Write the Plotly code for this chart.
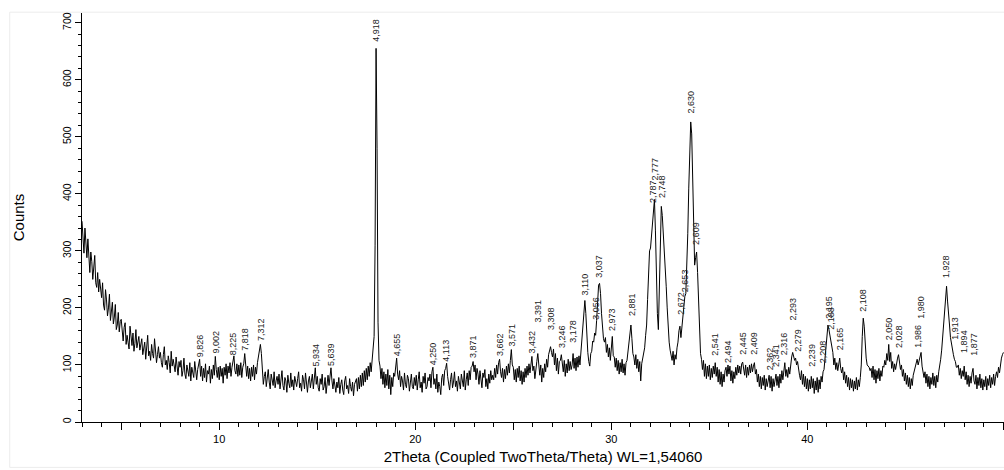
import numpy as np
import plotly.graph_objects as go

# ---- scan parameters ----
two_theta_start = 3.0
two_theta_step = 0.05
wavelength = 1.54060

# ---- measured counts, one row per degree (3.00 ... 49.95), then 50.00 ----
counts_by_degree = [
    [352, 318, 296, 340, 302, 288, 321, 276, 262, 298, 281, 250, 268, 292, 244, 236, 262, 228, 250, 233],  # 3
    [218, 244, 205, 196, 232, 214, 186, 200, 224, 178, 190, 210, 172, 184, 206, 162, 170, 192, 158, 176],  # 4
    [180, 150, 142, 166, 174, 136, 152, 140, 128, 168, 146, 134, 156, 124, 138, 162, 130, 144, 150, 126],  # 5
    [134, 146, 118, 126, 140, 110, 132, 152, 116, 124, 108, 136, 120, 112, 146, 126, 104, 118, 132, 112],  # 6
    [122, 104, 96, 118, 132, 100, 108, 92, 116, 104, 86, 124, 98, 110, 94, 88, 114, 100, 82, 106],         # 7
    [96, 108, 80, 90, 112, 84, 76, 100, 92, 80, 104, 72, 96, 88, 78, 106, 84, 74, 92, 100],                # 8
    [110, 80, 98, 72, 94, 78, 102, 70, 90, 84, 98, 68, 92, 76, 100, 82, 115, 92, 78, 96],                  # 9
    [74, 98, 80, 94, 68, 96, 82, 102, 76, 98, 86, 104, 80, 96, 106, 116, 90, 84, 102, 80],                 # 10
    [100, 82, 104, 78, 96, 102, 120, 96, 80, 98, 76, 94, 72, 96, 80, 100, 74, 96, 84, 104],                # 11
    [114, 130, 136, 120, 90, 66, 80, 88, 62, 76, 92, 70, 58, 84, 74, 64, 88, 60, 72, 80],                  # 12
    [66, 84, 58, 70, 90, 64, 56, 78, 72, 52, 82, 68, 60, 86, 62, 74, 56, 80, 70, 62],                      # 13
    [76, 88, 60, 68, 54, 82, 74, 58, 86, 66, 52, 72, 80, 60, 70, 84, 58, 74, 95, 66],                      # 14
    [80, 60, 54, 76, 66, 84, 56, 62, 78, 50, 70, 82, 64, 84, 95, 72, 58, 76, 66, 52],                      # 15
    [70, 60, 78, 50, 66, 74, 56, 48, 72, 80, 58, 64, 50, 76, 62, 54, 70, 46, 66, 74],                      # 16
    [76, 54, 78, 58, 82, 62, 86, 64, 90, 70, 94, 74, 98, 80, 104, 88, 110, 118, 150, 310],                 # 17
    [655, 480, 175, 108, 98, 76, 94, 66, 88, 60, 84, 64, 92, 58, 82, 48, 78, 62, 86, 80],                  # 18
    [98, 112, 84, 74, 90, 62, 80, 72, 56, 86, 66, 60, 82, 76, 54, 70, 84, 62, 58, 78],                     # 19
    [64, 82, 56, 74, 88, 60, 70, 52, 80, 68, 86, 58, 62, 78, 72, 84, 60, 88, 96, 66],                      # 20
    [76, 58, 84, 52, 70, 62, 48, 78, 84, 64, 90, 94, 103, 80, 66, 56, 74, 86, 60, 70],                     # 21
    [88, 62, 72, 54, 80, 66, 58, 84, 76, 62, 90, 56, 74, 86, 64, 90, 74, 96, 98, 106],                     # 22
    [88, 100, 74, 94, 84, 66, 90, 70, 60, 86, 78, 92, 62, 76, 58, 84, 68, 90, 74, 82],                     # 23
    [74, 94, 78, 100, 84, 104, 110, 88, 78, 94, 70, 92, 76, 98, 82, 102, 86, 108, 127, 100],               # 24
    [96, 74, 92, 70, 94, 78, 98, 72, 90, 66, 88, 70, 94, 78, 98, 82, 102, 86, 100, 115],                   # 25
    [90, 98, 76, 96, 106, 120, 98, 82, 100, 70, 94, 78, 102, 88, 110, 96, 118, 124, 132, 122],             # 26
    [114, 128, 100, 120, 90, 112, 84, 106, 108, 118, 96, 88, 108, 80, 102, 86, 110, 90, 106, 92],          # 27
    [100, 120, 94, 112, 90, 114, 96, 116, 100, 122, 142, 175, 200, 213, 190, 150, 122, 106, 98, 120],      # 28
    [124, 142, 140, 156, 152, 178, 215, 240, 243, 225, 190, 162, 146, 140, 148, 122, 136, 114, 130, 108],  # 29
    [140, 150, 116, 114, 96, 112, 90, 108, 84, 104, 88, 110, 86, 102, 82, 104, 108, 124, 138, 155],        # 30
    [170, 146, 120, 114, 100, 118, 94, 110, 88, 106, 72, 102, 110, 124, 130, 152, 170, 215, 270, 300],     # 31
    [305, 330, 355, 378, 390, 335, 255, 190, 162, 250, 345, 378, 362, 335, 300, 262, 238, 200, 165, 140],  # 32
    [126, 116, 108, 124, 100, 118, 110, 130, 140, 160, 168, 148, 166, 190, 205, 220, 225, 265, 330, 410],  # 33
    [480, 526, 505, 420, 335, 275, 288, 298, 262, 205, 155, 120, 110, 92, 108, 80, 102, 76, 98, 80],       # 34
    [100, 74, 94, 78, 98, 84, 104, 80, 96, 70, 92, 66, 88, 62, 84, 70, 90, 96, 80, 100],                   # 35
    [84, 98, 72, 90, 68, 88, 76, 96, 82, 100, 86, 98, 84, 102, 105, 90, 82, 100, 78, 96],                  # 36
    [82, 100, 86, 102, 88, 98, 104, 84, 92, 70, 84, 62, 80, 58, 78, 64, 82, 56, 76, 62],                   # 37
    [78, 82, 60, 80, 54, 76, 62, 78, 84, 64, 80, 60, 84, 68, 90, 74, 94, 104, 80, 92],                     # 38
    [78, 96, 84, 104, 114, 122, 114, 108, 112, 100, 106, 88, 82, 74, 90, 66, 84, 62, 80, 58],              # 39
    [76, 54, 74, 58, 80, 60, 76, 50, 72, 56, 78, 52, 74, 58, 80, 70, 88, 92, 110, 138],                    # 40
    [158, 170, 162, 150, 146, 126, 122, 100, 112, 92, 104, 90, 106, 112, 94, 86, 96, 74, 88, 68],          # 41
    [82, 62, 78, 56, 76, 60, 74, 54, 72, 58, 78, 56, 74, 62, 78, 100, 150, 182, 168, 132],                 # 42
    [112, 100, 98, 96, 90, 94, 78, 98, 74, 92, 68, 90, 76, 94, 72, 90, 80, 98, 96, 108],                   # 43
    [100, 120, 108, 136, 106, 122, 94, 106, 88, 102, 92, 108, 112, 118, 98, 92, 100, 80, 92, 72],          # 44
    [86, 66, 82, 62, 78, 58, 76, 64, 82, 88, 98, 104, 110, 100, 108, 114, 122, 98, 86, 78],                # 45
    [88, 68, 84, 62, 80, 58, 78, 66, 86, 64, 80, 60, 82, 70, 88, 96, 110, 126, 150, 172],                  # 46
    [200, 225, 238, 212, 182, 170, 148, 136, 122, 118, 110, 106, 96, 96, 100, 82, 94, 76, 90, 80],         # 47
    [98, 74, 88, 66, 82, 62, 80, 68, 86, 94, 72, 66, 82, 58, 78, 64, 84, 60, 76, 56],                      # 48
    [74, 62, 80, 56, 76, 64, 82, 60, 78, 66, 84, 64, 80, 88, 78, 96, 86, 106, 112, 118],                   # 49
    [122],                                                                                                  # 50.00
]

# ---- peak labels: d-spacing (Angstrom) and height of the label foot (counts) ----
peak_d = [9.826, 9.002, 8.225, 7.818, 7.312, 5.934, 5.639, 4.918, 4.655, 4.250,
          4.113, 3.871, 3.662, 3.571, 3.432, 3.391, 3.308, 3.246, 3.178, 3.110,
          3.056, 3.037, 2.973, 2.881, 2.787, 2.777, 2.748, 2.672, 2.653, 2.630,
          2.609, 2.541, 2.494, 2.445, 2.409, 2.362, 2.341, 2.316, 2.293, 2.279,
          2.239, 2.208, 2.195, 2.188, 2.165, 2.108, 2.050, 2.028, 1.986, 1.980,
          1.928, 1.913, 1.894, 1.877]
label_foot = [110, 117, 114, 122, 138, 94, 94, 663, 112, 96,
              103, 108, 112, 129, 117, 170, 157, 126, 135, 219,
              176, 249, 157, 182, 380, 420, 389, 184, 225, 538,
              307, 112, 100, 114, 114, 87, 93, 114, 175, 120,
              93, 100, 178, 158, 122, 190, 140, 126, 126, 178,
              249, 140, 117, 112]

x_ticks = [5, 10, 15, 20, 25, 30, 35, 40, 45, 50]
x_ticktext = ["", "10", "", "20", "", "30", "", "40", "", "50"]
y_ticks = [0, 100, 200, 300, 400, 500, 600, 700]

counts = [c for row in counts_by_degree for c in row]
two_theta = two_theta_start + two_theta_step * np.arange(len(counts))
peak_2theta = 2 * np.degrees(np.arcsin(wavelength / (2 * np.array(peak_d))))

FONT = "Liberation Sans, Arial, Helvetica, sans-serif"

fig = go.Figure()
fig.add_trace(go.Scatter(x=two_theta, y=counts, mode="lines",
                         line=dict(color="black", width=1), hoverinfo="skip",
                         showlegend=False))

for d, xp, yf in zip(peak_d, peak_2theta, label_foot):
    fig.add_annotation(x=xp, y=yf, text=f"{d:.3f}".replace(".", ","),
                       textangle=-90, showarrow=False, xanchor="center",
                       yanchor="bottom", font=dict(family=FONT, size=9, color="#222"))

fig.add_shape(type="rect", xref="paper", yref="paper", x0=-0.0784, x1=1.01,
              y0=-0.111, y1=1.002, line=dict(color="#ececec", width=1), layer="below")

fig.update_layout(
    width=1004, height=470,
    margin=dict(l=82, r=0, t=13, b=48),
    paper_bgcolor="white", plot_bgcolor="white",
    font=dict(family=FONT, color="black"),
    xaxis=dict(range=[3, 50.03], tickvals=x_ticks, ticktext=x_ticktext,
               ticks="outside", ticklen=7, tickcolor="black", tickwidth=1,
               showline=True, linecolor="black", linewidth=1, showgrid=False,
               zeroline=False, tickfont=dict(size=11),
               minor=dict(dtick=1, ticks="outside", ticklen=4, tickcolor="black"),
               title=dict(text="2Theta (Coupled TwoTheta/Theta) WL=1,54060",
                          font=dict(size=15), standoff=7),
               automargin=False),
    yaxis=dict(range=[0, 717], tickvals=y_ticks, tickangle=-90,
               ticks="outside", ticklen=6, tickcolor="black", tickwidth=1,
               showline=True, linecolor="black", linewidth=1, showgrid=False,
               zeroline=False, tickfont=dict(size=10.5),
               minor=dict(dtick=20, ticks="outside", ticklen=3, tickcolor="black"),
               title=dict(text="Counts", font=dict(size=15), standoff=32),
               automargin=False),
)

fig.write_html("out.html")
